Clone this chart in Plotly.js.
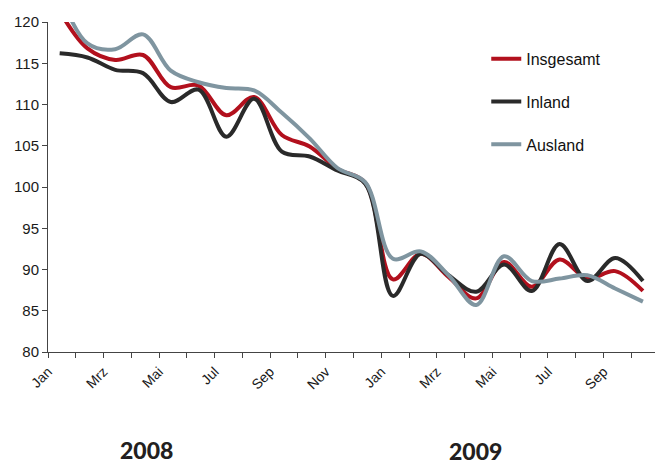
<!DOCTYPE html>
<html>
<head>
<meta charset="utf-8">
<script src="https://cdn.plot.ly/plotly-3.0.1.min.js"></script>
<style>html,body{margin:0;padding:0;background:#fff;}#chart{width:655px;height:466px;}</style>
</head>
<body>
<div id="chart"></div>
<script>
// Monthly index values, Jan 2008 - Oct 2009
const months = ["Jan","Feb","Mrz","Apr","Mai","Jun","Jul","Aug","Sep","Okt","Nov","Dez",
                "Jan","Feb","Mrz","Apr","Mai","Jun","Jul","Aug","Sep","Okt"];
const insgesamt = [121.3, 116.8, 115.4, 116.0, 112.1, 112.3, 108.7, 110.9, 106.3, 104.9, 102.2, 100.5,
                   88.8, 91.9, 89.1, 86.5, 90.9, 87.9, 91.2, 88.9, 89.8, 87.4];
const inland    = [116.2, 115.7, 114.2, 113.8, 110.3, 111.8, 106.1, 110.7, 104.3, 103.7, 102.0, 100.4,
                   86.8, 91.9, 89.3, 87.3, 90.6, 87.4, 93.1, 88.6, 91.4, 88.6];
const ausland   = [123.5, 117.4, 116.7, 118.5, 114.1, 112.7, 112.0, 111.7, 109.0, 105.9, 102.3, 100.6,
                   91.3, 92.2, 89.3, 85.7, 91.6, 88.6, 88.9, 89.3, 87.7, 86.1];
const tickLabels = ["Jan","","Mrz","","Mai","","Jul","","Sep","","Nov","",
                    "Jan","","Mrz","","Mai","","Jul","","Sep","",""];
const years = ["2008", "2009"];

const xs = months.map((m, i) => i + 0.42);
const tickVals = tickLabels.map((t, i) => i);

function tr(name, y, color, grp) {
  return {x: xs, y: y, name: name, type: 'scatter', mode: 'lines', legendgroup: grp,
          line: {color: color, width: 4, shape: 'spline', smoothing: 1}, hoverinfo: 'skip'};
}
const data = [
  tr('Insgesamt', insgesamt, '#b2101d', 'a'),
  tr('Inland', inland, '#2a2a2a', 'b'),
  tr('Ausland', ausland, '#7f95a0', 'c')
];

const layout = {
  width: 655, height: 466,
  margin: {l: 48, r: 0, t: 22, b: 114, pad: 0},
  paper_bgcolor: '#ffffff', plot_bgcolor: '#ffffff',
  font: {family: 'Liberation Sans, Arial, sans-serif', color: '#1a1a1a', size: 15},
  showlegend: true,
  legend: {x: 0.722, y: 0.94, xanchor: 'left', yanchor: 'top', bgcolor: 'rgba(0,0,0,0)',
           font: {size: 16, color: '#111'}, tracegroupgap: 19, itemwidth: 30},
  xaxis: {
    range: [0, 21.855], tickmode: 'array', tickvals: tickVals, ticktext: tickLabels,
    tickangle: -45, ticks: 'outside', ticklen: 5, tickcolor: '#444', tickwidth: 1,
    showline: true, linecolor: '#444', linewidth: 1, showgrid: false, zeroline: false,
    tickfont: {size: 14, color: '#1a1a1a'}, fixedrange: true
  },
  yaxis: {
    range: [80, 120], dtick: 5, tick0: 80, ticks: 'outside', ticklen: 5, tickcolor: '#444',
    showline: true, linecolor: '#444', linewidth: 1, showgrid: false, zeroline: false,
    tickfont: {size: 15, color: '#1a1a1a'}, fixedrange: true
  },
  annotations: [
    {text: years[0], xref: 'paper', yref: 'paper', x: 0.163, y: -0.296,
     showarrow: false, xanchor: 'center', yanchor: 'middle',
     font: {family: 'Lato, Open Sans, sans-serif', size: 23, color: '#231f20', weight: 900}},
    {text: years[1], xref: 'paper', yref: 'paper', x: 0.705, y: -0.301,
     showarrow: false, xanchor: 'center', yanchor: 'middle',
     font: {family: 'Lato, Open Sans, sans-serif', size: 23, color: '#231f20', weight: 900}}
  ]
};

Plotly.newPlot('chart', data, layout, {staticPlot: true, displayModeBar: false});
</script>
</body>
</html>
